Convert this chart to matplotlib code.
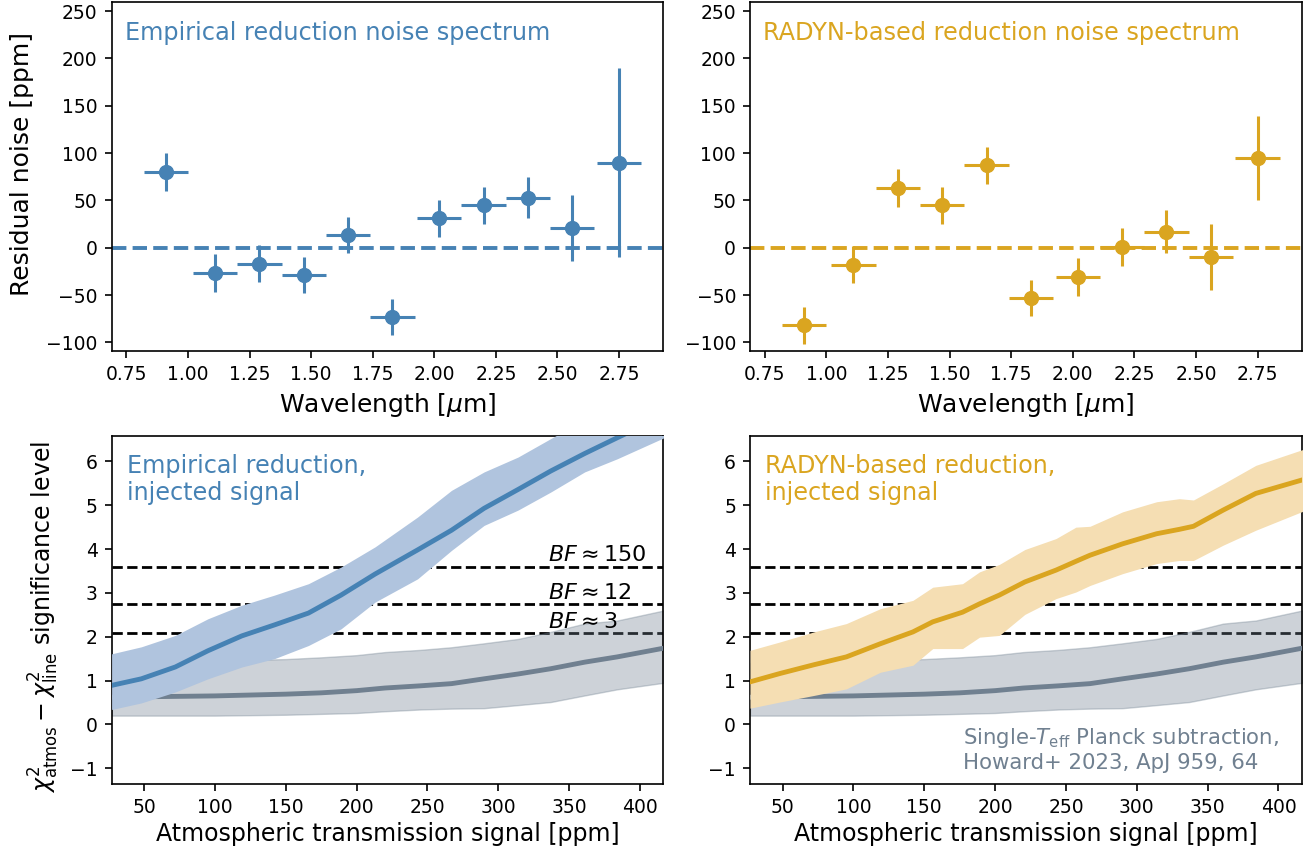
import matplotlib
matplotlib.use("Agg")
import matplotlib.pyplot as plt

# ---------------- data ----------------
wavelength = [0.91, 1.11, 1.29, 1.47, 1.65, 1.83, 2.02, 2.20, 2.38, 2.56, 2.75]
bin_halfwidth = [0.09] * 11
emp_noise = [80, -27, -17, -29, 14, -73, 31, 45, 53, 21, 90]
emp_err = [20, 20, 19.5, 19, 19, 19, 20, 19.5, 22, 35, 100]
rad_noise = [-82, -18, 63, 45, 87, -53, -31, 1, 17, -10, 95]
rad_err = [20, 19.5, 20, 19.5, 19.5, 19.5, 20, 19.7, 22.5, 35, 44]

signal_emp = [27, 48, 72, 95, 119, 142, 166, 189, 213, 243, 267, 290, 314, 337, 361, 384, 417]
emp_mid = [0.89, 1.04, 1.31, 1.68, 2.02, 2.27, 2.54, 2.95, 3.43, 3.98, 4.43, 4.93, 5.36, 5.78, 6.18, 6.54, 7.05]
emp_hi = [1.61, 1.77, 2.03, 2.41, 2.72, 2.95, 3.21, 3.59, 4.05, 4.73, 5.34, 5.76, 6.10, 6.52, 6.95, 7.30, 7.75]
emp_lo = [0.34, 0.49, 0.74, 1.04, 1.31, 1.50, 1.80, 2.18, 2.79, 3.32, 3.97, 4.54, 4.89, 5.30, 5.76, 6.06, 6.54]

signal_rad = [27, 48, 72, 95, 119, 142, 156, 177, 189, 203, 221, 243, 257, 267, 290, 314, 330, 340, 361, 384, 417]
rad_mid = [0.97, 1.16, 1.36, 1.54, 1.84, 2.11, 2.34, 2.56, 2.75, 2.95, 3.25, 3.52, 3.72, 3.86, 4.12, 4.35, 4.45, 4.52, 4.89, 5.27, 5.58]
rad_hi = [1.69, 1.88, 2.11, 2.30, 2.64, 2.83, 3.13, 3.21, 3.48, 3.65, 3.99, 4.24, 4.50, 4.52, 4.85, 5.08, 5.15, 5.12, 5.49, 5.91, 6.27]
rad_lo = [0.37, 0.51, 0.66, 0.81, 1.19, 1.35, 1.73, 1.73, 1.99, 2.03, 2.51, 2.87, 3.02, 3.17, 3.44, 3.67, 3.74, 3.74, 4.09, 4.43, 4.86]

signal_planck = [27, 50, 75, 100, 125, 150, 175, 200, 220, 245, 267, 290, 314, 337, 361, 384, 417]
planck_mid = [0.62, 0.63, 0.64, 0.65, 0.67, 0.69, 0.72, 0.77, 0.83, 0.88, 0.93, 1.04, 1.15, 1.27, 1.42, 1.54, 1.74]
planck_hi = [1.40, 1.42, 1.44, 1.45, 1.47, 1.49, 1.53, 1.58, 1.65, 1.70, 1.76, 1.85, 1.95, 2.11, 2.30, 2.37, 2.60]
planck_lo = [0.20, 0.20, 0.20, 0.20, 0.21, 0.22, 0.24, 0.26, 0.30, 0.34, 0.36, 0.37, 0.44, 0.51, 0.66, 0.80, 0.95]

bf_levels = [2.08, 2.74, 3.6]
bf_labels = [r"$BF \approx 3$", r"$BF \approx 12$", r"$BF \approx 150$"]

# ---------------- style ----------------
BLUE = "steelblue"
BLUE_BAND = "lightsteelblue"
GOLD = "goldenrod"
GOLD_BAND = "wheat"
GRAY = "slategray"

fig = plt.figure(figsize=(13.15, 8.55), dpi=100)
ax_tl = fig.add_axes([0.08487, 0.58947, 0.41962, 0.40854])
ax_tr = fig.add_axes([0.57034, 0.58947, 0.41977, 0.40854])
ax_bl = fig.add_axes([0.08487, 0.08304, 0.41962, 0.40702])
ax_br = fig.add_axes([0.57034, 0.08304, 0.41977, 0.40702])

for ax in (ax_tl, ax_tr, ax_bl, ax_br):
    ax.tick_params(length=5, width=1.2, pad=5, labelsize=13.5)
    for sp in ax.spines.values():
        sp.set_linewidth(1.2)

# ---------------- top panels ----------------
for ax, vals, errs, col, title in (
    (ax_tl, emp_noise, emp_err, BLUE, "Empirical reduction noise spectrum"),
    (ax_tr, rad_noise, rad_err, GOLD, "RADYN-based reduction noise spectrum"),
):
    ax.axhline(0, color=col, ls="--", lw=2.8, zorder=1)
    ax.errorbar(wavelength, vals, xerr=bin_halfwidth, yerr=errs, fmt="o",
                color=col, ms=10, elinewidth=2.2, capsize=0, zorder=3)
    ax.set_xlim(0.69, 2.93)
    ax.set_ylim(-109, 260)
    ax.set_xticks([0.75, 1.0, 1.25, 1.5, 1.75, 2.0, 2.25, 2.5, 2.75])
    ax.set_yticks([-100, -50, 0, 50, 100, 150, 200, 250])
    ax.set_xlabel(r"Wavelength [$\mu$m]", fontsize=18, labelpad=5)
    ax.text(0.024, 0.890, title, transform=ax.transAxes, color=col,
            fontsize=17.3, ha="left", va="baseline")

ax_tl.set_ylabel("Residual noise [ppm]", fontsize=18)
ax_tl.yaxis.set_label_coords(-0.1406, 0.535)

# ---------------- bottom panels ----------------
for ax, sig, mid, lo, hi, col, band, title in (
    (ax_bl, signal_emp, emp_mid, emp_lo, emp_hi, BLUE, BLUE_BAND,
     "Empirical reduction,\ninjected signal"),
    (ax_br, signal_rad, rad_mid, rad_lo, rad_hi, GOLD, GOLD_BAND,
     "RADYN-based reduction,\ninjected signal"),
):
    for lev in bf_levels:
        ax.axhline(lev, color="k", ls="--", lw=2, zorder=1)
    ax.fill_between(signal_planck, planck_lo, planck_hi, color=GRAY,
                    alpha=0.35, zorder=2)
    ax.plot(signal_planck, planck_mid, color=GRAY, lw=3.5, zorder=3)
    ax.fill_between(sig, lo, hi, color=band, lw=0, zorder=4)
    ax.plot(sig, mid, color=col, lw=3.5, zorder=5)
    ax.set_xlim(27, 416.6)
    ax.set_ylim(-1.36, 6.58)
    ax.set_xticks([50, 100, 150, 200, 250, 300, 350, 400])
    ax.set_yticks([-1, 0, 1, 2, 3, 4, 5, 6])
    ax.set_xlabel("Atmospheric transmission signal [ppm]", fontsize=17,
                  labelpad=4)
    # multi-line text: va='baseline' anchors the last line's baseline
    ax.text(0.028, 0.8152, title, transform=ax.transAxes, color=col,
            fontsize=17.2, ha="left", va="baseline")

for lev, lab in zip(bf_levels, bf_labels):
    ax_bl.text(335, lev + 0.12, lab, fontsize=16, ha="left", va="baseline",
               zorder=6)

ax_br.text(0.3862, 0.0422,
           "Single-$T_{\\rm eff}$ Planck subtraction,\nHoward+ 2023, ApJ 959, 64",
           transform=ax_br.transAxes, color=GRAY, fontsize=15.3,
           ha="left", va="baseline", zorder=6)

ax_bl.set_ylabel(r"$\chi^2_{\rm atmos} - \chi^2_{\rm line}$ significance level",
                 fontsize=17)
ax_bl.yaxis.set_label_coords(-0.0917, 0.48)

fig.savefig("out.png", dpi=100)
